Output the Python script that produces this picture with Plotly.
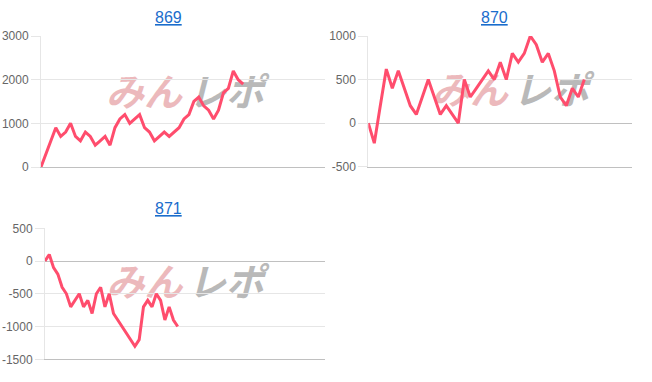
import plotly.graph_objects as go

# ---- data ----
titles = ["869", "870", "871"]
s869 = [0, 300, 600, 900, 700, 800, 1000, 700, 600, 800, 700, 500, 600, 700, 500,
        900, 1100, 1200, 1000, 1100, 1200, 900, 800, 600, 700, 800, 700, 800, 900,
        1100, 1200, 1500, 1600, 1400, 1300, 1100, 1300, 1700, 1800, 2200, 2000, 1900]
s870 = [0, -230, 200, 620, 400, 600, 400, 200, 100, 300, 500, 300, 100, 200, 100,
        0, 500, 300, 400, 500, 600, 500, 700, 500, 800, 700, 800, 1000, 900, 700,
        800, 600, 300, 200, 400, 300, 500]
s871 = [0, 100, -100, -200, -400, -500, -700, -600, -500, -700, -600, -800, -500,
        -400, -700, -500, -800, -900, -1000, -1100, -1200, -1300, -1200, -700, -600,
        -700, -500, -600, -900, -700, -900, -1000]
ticks869 = [0, 1000, 2000, 3000]
ticks870 = [-500, 0, 500, 1000]
ticks871 = [-1500, -1000, -500, 0, 500]
watermark = ["みん", "レポ"]

# ---- layout helpers (pixel geometry of the 652x382 page) ----
W, H = 652, 382
def px(x):
    return x / W
def py(y):
    return 1 - y / H

LINE = "#ff4d6d"
GRID = "#e6e6e6"
AXIS = "#c0c0c0"
TICKFONT = dict(family="Liberation Sans, Arial, sans-serif", size=12, color="#666666")

panels = [
    dict(data=s869, ticks=ticks869, xr=[0, 57.6], box=(41, 325, 36, 167),
         title=(168, 17), wm=(144, 226, 95)),
    dict(data=s870, ticks=ticks870, xr=[0, 43.9], box=(368.3, 631.7, 36, 166.7),
         title=(495, 17), wm=(470, 551, 93)),
    dict(data=s871, ticks=ticks871, xr=[0, 65.4], box=(45, 325, 228.3, 359.3),
         title=(168, 208), wm=(144.5, 226, 285)),
]

fig = go.Figure()
layout = dict(width=W, height=H, margin=dict(l=0, r=0, t=0, b=0),
              paper_bgcolor="white", plot_bgcolor="white", showlegend=False,
              annotations=[], shapes=[])

for i, (p, t) in enumerate(zip(panels, titles)):
    n = "" if i == 0 else str(i + 1)
    x0, x1, y0, y1 = p["box"]
    fig.add_trace(go.Scatter(
        x=list(range(len(p["data"]))), y=p["data"], mode="lines",
        line=dict(color=LINE, width=3), xaxis="x" + n, yaxis="y" + n,
        hoverinfo="skip"))
    layout["xaxis" + n] = dict(
        domain=[px(x0), px(x1)], range=p["xr"], anchor="y" + n,
        showticklabels=False, showgrid=False, zeroline=False,
        showline=True, linecolor=AXIS, linewidth=1, ticks="", automargin=False)
    layout["yaxis" + n] = dict(
        domain=[py(y1), py(y0)], range=[p["ticks"][0], p["ticks"][-1]],
        anchor="x" + n, tickmode="array", tickvals=p["ticks"],
        ticktext=[str(v) for v in p["ticks"]], tickfont=TICKFONT,
        ticks="outside", ticklen=9, tickcolor=GRID, tickwidth=1,
        showgrid=True, gridcolor=GRID, gridwidth=1,
        zeroline=True, zerolinecolor=AXIS, zerolinewidth=1,
        showline=True, linecolor=GRID, linewidth=1, automargin=False)
    tx, ty = p["title"]
    layout["annotations"].append(dict(
        text="<u>" + t + "</u>", x=px(tx), y=py(ty), xref="paper", yref="paper",
        xanchor="center", yanchor="middle", showarrow=False,
        font=dict(family="Liberation Sans, Arial, sans-serif", size=16, color="#1a6dcc")))
    wx1, wx2, wy = p["wm"]
    for txt, cx, col in ((watermark[0], wx1, "#ecb9bc"), (watermark[1], wx2, "#b9b9b9")):
        layout["shapes"].append(dict(
            type="rect", xref="paper", yref="paper", layer="between",
            x0=px(cx - 42), x1=px(cx + 42), y0=py(wy + 17), y1=py(wy - 17),
            line=dict(width=0), fillcolor="rgba(0,0,0,0)",
            label=dict(text="<b><i>" + txt + "</i></b>", textposition="middle center",
                       font=dict(family="Noto Sans CJK JP", size=38, color=col))))

fig.update_layout(**layout)
fig.write_html("out.html")
